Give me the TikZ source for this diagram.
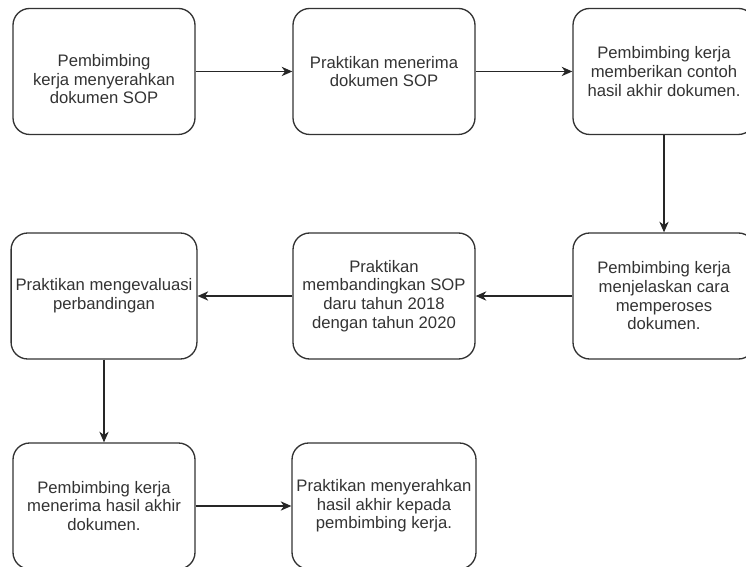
\documentclass[tikz,border=0pt]{standalone}
\usepackage{fontspec}
\setmainfont{Liberation Sans}
\usetikzlibrary{arrows.meta}
\begin{document}
\begin{tikzpicture}[every node/.style={draw=black!80,rounded corners=12.5pt,line width=1pt,minimum width=136.5pt,minimum height=94.5pt,align=center,text=black!80,font=\fontsize{12.5}{14}\selectfont,node distance=210pt},
            arrow/.style={draw=black!85,line width=0.9pt,-{Stealth[length=8pt,width=7pt,inset=2.5pt]}}]
            \useasboundingbox (0,0) rectangle (559.5pt,-425.25pt);
            \node (1) at (78pt,-53.6pt) {\raisebox{-7.5pt}[\height][\depth]{\begin{tabular}{@{}c@{}}Pembimbing\\kerja menyerahkan\\dokumen SOP\end{tabular}}};
            \node[right of=1] (2) {Praktikan menerima\\dokumen SOP};
            \node[right of=2] (3) {Pembimbing kerja\\memberikan contoh\\hasil akhir dokumen.};
            \node[node distance=168.4pt,below of=3] (4) {Pembimbing kerja\\menjelaskan cara\\memperoses\\dokumen.};
            \node[left of=4] (5) {Praktikan\\membandingkan SOP\\daru tahun 2018\\dengan tahun 2020};
            \node[left of=5] (6) {Praktikan mengevaluasi\\perbandingan};
            \node[node distance=157.5pt,below of=6] (7) {Pembimbing kerja\\menerima hasil akhir\\dokumen.};
            \node[right of=7] (8) {Praktikan menyerahkan\\hasil akhir kepada\\pembimbing kerja.};
            \path[arrow] (1) -- (2);
            \path[arrow] (2) -- (3);
            \path[arrow] (3) -- (4);
            \path[arrow] (4) -- (5);
            \path[arrow] (5) -- (6);
            \path[arrow] (6) -- (7);
            \path[arrow] (7) -- (8);
        \end{tikzpicture}
\end{document}
